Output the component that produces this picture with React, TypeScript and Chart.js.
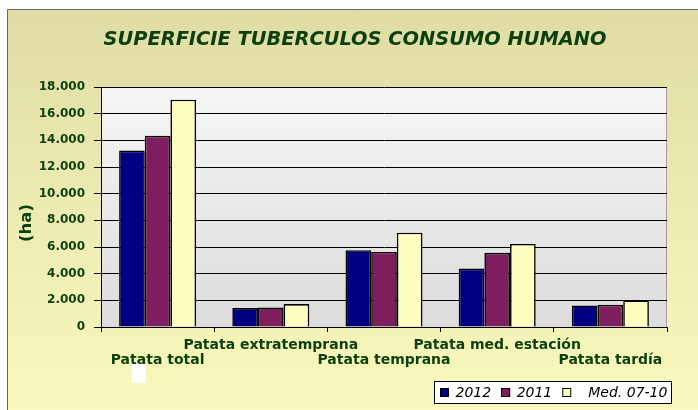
import React, { useEffect, useRef } from 'react';
import { Chart, registerables } from 'chart.js';

Chart.register(...registerables);

const chartTitle = 'SUPERFICIE TUBERCULOS CONSUMO HUMANO';
const yAxisTitle = '(ha)';
const categories = [
  'Patata total',
  'Patata extratemprana',
  'Patata temprana',
  'Patata med. estación',
  'Patata tardía',
];
const seriesNames = ['2012', '2011', 'Med. 07-10'];
const values2012 = [13230, 1420, 5760, 4380, 1620];
const values2011 = [14350, 1470, 5630, 5560, 1670];
const valuesMed = [17050, 1720, 7070, 6230, 1995];
const yMin = 0;
const yMax = 18000;
const yStep = 2000;

const FONT = '"DejaVu Sans", "Liberation Sans", Arial, sans-serif';
const GREEN = '#0b3f0b';
const barColors = ['#000080', '#7e1e5e', '#ffffc0'];

const fmt = (v: number) => String(v).replace(/\B(?=(\d{3})+(?!\d))/g, '.');

const decor = {
  id: 'decor',
  beforeDraw(chart: any) {
    const { ctx, width, height, chartArea } = chart;
    ctx.save();
    ctx.fillStyle = '#ffffff';
    ctx.fillRect(0, 0, width, height);
    const g = ctx.createLinearGradient(0, 9, 0, height);
    g.addColorStop(0, '#dfdda5');
    g.addColorStop(1, '#f9f9bd');
    ctx.fillStyle = g;
    ctx.fillRect(7, 9, width - 7, height - 9);
    ctx.strokeStyle = '#666666';
    ctx.lineWidth = 1;
    ctx.beginPath();
    ctx.moveTo(7.5, height);
    ctx.lineTo(7.5, 9.5);
    ctx.lineTo(width, 9.5);
    ctx.stroke();
    const pg = ctx.createLinearGradient(0, chartArea.top, 0, chartArea.bottom);
    pg.addColorStop(0, '#f6f6f6');
    pg.addColorStop(1, '#dcdcdc');
    ctx.fillStyle = pg;
    ctx.fillRect(chartArea.left, chartArea.top, chartArea.right - chartArea.left, chartArea.bottom - chartArea.top);
    ctx.strokeStyle = '#a0a0a0';
    ctx.beginPath();
    ctx.moveTo(Math.round(chartArea.right) - 0.5, chartArea.top);
    ctx.lineTo(Math.round(chartArea.right) - 0.5, chartArea.bottom);
    ctx.stroke();
    ctx.restore();
  },
  afterDraw(chart: any) {
    const { ctx } = chart;
    ctx.save();
    // main title
    ctx.fillStyle = GREEN;
    ctx.font = `italic bold 19.4px ${FONT}`;
    ctx.textAlign = 'center';
    ctx.textBaseline = 'alphabetic';
    ctx.fillText(chartTitle, 355, 45);
    // y axis title
    ctx.save();
    ctx.translate(27, 223);
    ctx.rotate(-Math.PI / 2);
    ctx.font = `bold 16.5px ${FONT}`;
    ctx.textBaseline = 'middle';
    ctx.fillText(yAxisTitle, 0, 0);
    ctx.restore();
    // legend box
    const lx = 434, ly = 381, lw = 238, lh = 23;
    ctx.fillStyle = '#ffffff';
    ctx.fillRect(lx, ly, lw, lh);
    ctx.strokeStyle = '#000000';
    ctx.lineWidth = 1;
    ctx.strokeRect(lx + 0.5, ly + 0.5, lw - 1, lh - 1);
    ctx.font = `italic 14px ${FONT}`;
    ctx.textAlign = 'left';
    ctx.textBaseline = 'middle';
    const cy = ly + lh / 2 + 0.5;
    let x = 440;
    chart.data.datasets.forEach((ds: any, i: number) => {
      ctx.fillStyle = ds.backgroundColor;
      ctx.fillRect(x, cy - 5, 9, 9);
      ctx.strokeStyle = '#000000';
      ctx.strokeRect(x + 0.5, cy - 4.5, 8, 8);
      const tx = x + (i === 2 ? 26 : 15.5);
      ctx.fillStyle = '#000000';
      ctx.fillText(ds.label, tx, cy);
      x = tx + ctx.measureText(ds.label).width + 10;
    });
    // small white patch under first label
    ctx.fillStyle = '#ffffff';
    ctx.fillRect(132, 364, 14, 19);
    ctx.restore();
  },
};

export default function App() {
  const ref = useRef<HTMLCanvasElement | null>(null);
  useEffect(() => {
    document.body.style.margin = '0';
    const canvas = ref.current;
    if (!canvas) return;
    const seriesValues = [values2012, values2011, valuesMed];
    const chart = new Chart(canvas, {
      type: 'bar',
      data: {
        labels: categories.map((c, i) => (i % 2 === 0 ? ['', c] : c)),
        datasets: seriesNames.map((name, i) => ({
          label: name,
          data: seriesValues[i],
          backgroundColor: barColors[i],
          borderColor: '#000000',
          borderWidth: 1.6,
          barPercentage: 1,
          categoryPercentage: 0.68,
        })),
      },
      options: {
        animation: false,
        responsive: false,
        devicePixelRatio: 1,
        layout: { padding: { top: 87, left: 0, right: 31, bottom: 23 } },
        plugins: {
          legend: { display: false },
          title: { display: false },
          tooltip: { enabled: false },
        },
        scales: {
          x: {
            grid: { offset: true, drawOnChartArea: false, drawTicks: true, tickLength: 5, color: '#000000' },
            border: { display: true, color: '#000000', width: 1 },
            ticks: {
              autoSkip: false,
              maxRotation: 0,
              minRotation: 0,
              padding: 6,
              color: GREEN,
              font: { family: FONT, weight: 'bold', size: 14, lineHeight: 15 / 14 },
            },
            afterFit: (s: any) => {
              s.height = 60;
            },
          },
          y: {
            min: yMin,
            max: yMax,
            grid: { color: '#000000', lineWidth: 1, tickLength: 7, drawTicks: true },
            border: { display: true, color: '#000000', width: 1 },
            ticks: {
              stepSize: yStep,
              padding: 9,
              color: GREEN,
              font: { family: FONT, weight: 'bold', size: 12 },
              callback: (v: any) => fmt(Number(v)),
            },
            afterFit: (s: any) => {
              s.width = 101;
            },
          },
        },
      },
      plugins: [decor],
    });
    return () => chart.destroy();
  }, []);
  return (
    <div style={{ width: 698, height: 410 }}>
      <canvas ref={ref} width={698} height={410} style={{ display: 'block' }} />
    </div>
  );
}
